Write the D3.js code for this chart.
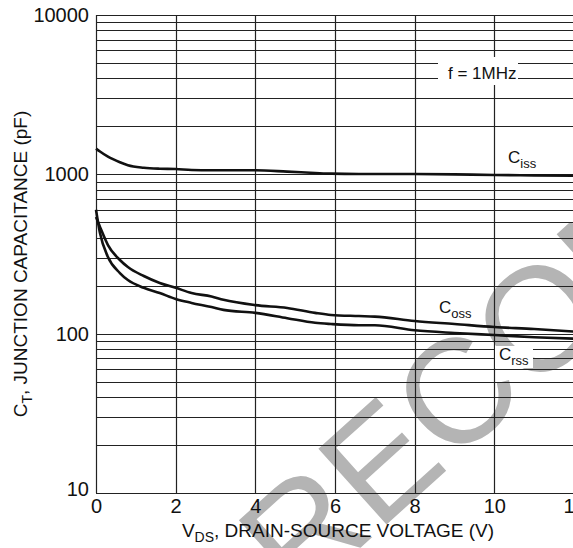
<!DOCTYPE html>
<html>
<head>
<meta charset="utf-8">
<script src="https://cdn.jsdelivr.net/npm/d3@7"></script>
<style>
  body { margin: 0; background: #fff; }
  text { font-family: "Liberation Sans", Arial, sans-serif; }
</style>
</head>
<body>
<div id="chart"></div>
<script>
// data
const vds = [0, 0.1, 0.3, 0.6, 0.8, 1.2, 1.6, 2, 2.4, 2.9, 3.2, 4, 4.8, 5.5, 5.9, 6.6, 7, 8, 9, 10, 11, 12]
const ciss = [1450, 1390, 1290, 1190, 1140, 1100, 1085, 1080, 1065, 1060, 1060, 1060, 1040, 1020, 1010, 1005, 1005, 1005, 1000, 990, 985, 980]
const coss = [540, 468, 360, 290, 262, 230, 208, 194, 180, 171, 163, 151, 145, 135, 131, 129, 128, 120, 115, 110, 107, 103]
const crss = [600, 428, 303, 240, 217, 194, 180, 165, 156, 147, 141, 135, 125, 117, 115, 113, 113, 105, 101, 98, 95, 93]
const xTicks = [0, 2, 4, 6, 8, 10, 12]
const yTicks = [10, 100, 1000, 10000]

const W = 573
const H = 548
const margin = { top: 15, right: -1, bottom: 55, left: 96 }

const svg = d3.select('#chart')
  .append('svg')
  .attr('width', W)
  .attr('height', H)

const x = d3.scaleLinear()
  .domain([0, 12])
  .range([margin.left, W - margin.right])

const y = d3.scaleLog()
  .domain([10, 10000])
  .range([H - margin.bottom, margin.top])

// watermark behind the grid
svg.append('text')
  .attr('transform', 'translate(298,604) rotate(-42)')
  .attr('font-size', 148)
  .attr('fill', '#b4b4b4')
  .text('RECOMMENDED')

// horizontal grid at every minor decade step
const hLines = []
for (let d = 10; d < 10000; d *= 10) {
  for (let k = 1; k < 10; k++) hLines.push(d * k)
}
hLines.push(10000)

svg.append('g')
  .selectAll('line')
  .data(hLines)
  .enter()
  .append('line')
  .attr('x1', x(0))
  .attr('x2', x(12))
  .attr('y1', d => Math.round(y(d)) + 0.5)
  .attr('y2', d => Math.round(y(d)) + 0.5)
  .attr('stroke', '#222')
  .attr('stroke-width', 1.2)

svg.append('g')
  .selectAll('line')
  .data(xTicks)
  .enter()
  .append('line')
  .attr('x1', d => Math.round(x(d)) + 0.5)
  .attr('x2', d => Math.round(x(d)) + 0.5)
  .attr('y1', y(10))
  .attr('y2', y(10000))
  .attr('stroke', '#222')
  .attr('stroke-width', 1.2)

// axes labels
const yAxis = svg.append('g')
  .attr('transform', 'translate(' + x(0) + ',0)')
  .call(d3.axisLeft(y).tickValues(yTicks).tickSize(0).tickPadding(7).tickFormat(d3.format('d')))
yAxis.select('.domain').remove()
yAxis.selectAll('text').attr('font-size', 20).attr('fill', '#111')
yAxis.selectAll('.tick').filter(d => d === 10).select('text').attr('dy', '0.1em')

const xAxis = svg.append('g')
  .attr('transform', 'translate(0,' + y(10) + ')')
  .call(d3.axisBottom(x).tickValues(xTicks).tickSize(0).tickPadding(6))
xAxis.select('.domain').remove()
xAxis.selectAll('text').attr('font-size', 20).attr('fill', '#111')

// curves
const line = d3.line()
  .x((d, i) => x(vds[i]))
  .y(d => y(d))
  .curve(d3.curveMonotoneX)

const series = [ciss, coss, crss]
svg.append('g')
  .selectAll('path')
  .data(series)
  .enter()
  .append('path')
  .attr('d', line)
  .attr('fill', 'none')
  .attr('stroke', '#111')
  .attr('stroke-width', 2.6)

// boxed labels
function label (bx, by, bw, bh, tx, ty, main, sub) {
  svg.append('rect')
    .attr('x', bx).attr('y', by).attr('width', bw).attr('height', bh)
    .attr('fill', '#fff')
  const t = svg.append('text')
    .attr('x', tx).attr('y', ty)
    .attr('font-size', 17)
    .attr('fill', '#111')
    .text(main)
  if (sub) {
    t.append('tspan')
      .attr('font-size', 13)
      .attr('dy', 5)
      .text(sub)
  }
}

label(438, 57, 80, 28, 448, 79, 'f = 1MHz')
label(436, 297, 36, 20, 439, 313, 'C', 'oss')
label(495, 346, 38, 22, 499, 360, 'C', 'rss')
svg.append('text')
  .attr('x', 508).attr('y', 163)
  .attr('font-size', 17)
  .attr('fill', '#111')
  .text('C')
  .append('tspan')
  .attr('font-size', 13)
  .attr('dy', 5)
  .text('iss')

// axis titles
const xt = svg.append('text')
  .attr('x', 338).attr('y', 537)
  .attr('text-anchor', 'middle')
  .attr('font-size', 19)
  .attr('fill', '#111')
xt.append('tspan').text('V')
xt.append('tspan').attr('font-size', 14).attr('dy', 5).text('DS')
xt.append('tspan').attr('dy', -5).text(', DRAIN-SOURCE VOLTAGE (V)')

const yt = svg.append('text')
  .attr('transform', 'translate(27,264) rotate(-90)')
  .attr('text-anchor', 'middle')
  .attr('font-size', 19)
  .attr('fill', '#111')
yt.append('tspan').text('C')
yt.append('tspan').attr('font-size', 14).attr('dy', 5).text('T')
yt.append('tspan').attr('dy', -5).text(', JUNCTION CAPACITANCE (pF)')
</script>
</body>
</html>
